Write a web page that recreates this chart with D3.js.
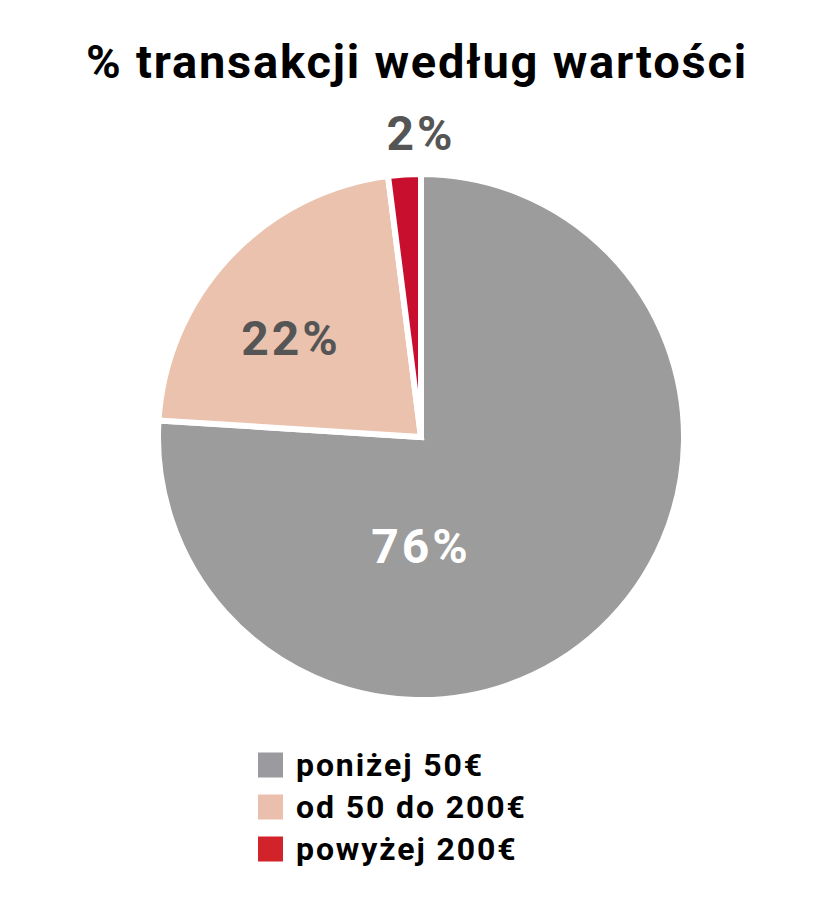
<!DOCTYPE html>
<html>
<head>
  <meta charset="utf-8">
  <title>% transakcji według wartości</title>
  <style>
    html, body { margin: 0; padding: 0; background: #fff; }
    svg text { font-family: Roboto, "Open Sans", "DejaVu Sans", sans-serif; font-weight: 700; }
  </style>
</head>
<body>
<div id="chart"></div>
<script src="https://cdn.jsdelivr.net/npm/d3@7"></script>
<script>
// data
var categories = ['poniżej 50€', 'od 50 do 200€', 'powyżej 200€'];
var shares = [76, 22, 2];
var labels = ['76%', '22%', '2%'];
var colors = ['#9c9c9c', '#ebc2ad', '#c8102e'];
var legendColors = ['#9b9b9f', '#ebbfad', '#d2232a'];

var width = 829, height = 913,
    cx = 421, cy = 437, radius = 263;

// label placement relative to pie centre (the source puts them by hand)
var labelOffset = [[0, 126], [-130, -82], [0, -287]],
    labelFill = ['#ffffff', '#555555', '#555555'];

var svg = d3.select('#chart').append('svg')
    .attr('width', width)
    .attr('height', height);

svg.append('text')
    .attr('x', 417)
    .attr('y', 78)
    .attr('text-anchor', 'middle')
    .style('font-size', '47px')
    .style('letter-spacing', '1.8px')
    .attr('fill', '#000')
    .text('% transakcji według wartości');

var pie = d3.pie().sort(null).value(function(d) { return d; });
var arc = d3.arc().innerRadius(0).outerRadius(radius);

var g = svg.append('g').attr('transform', 'translate(' + cx + ',' + cy + ')');

g.selectAll('path.slice')
    .data(pie(shares))
  .enter().append('path')
    .attr('class', 'slice')
    .attr('d', arc)
    .attr('fill', function(d, i) { return colors[i]; })
    .attr('stroke', '#fff')
    .attr('stroke-width', 6)
    .attr('stroke-linejoin', 'miter');

g.selectAll('text.lbl')
    .data(labels)
  .enter().append('text')
    .attr('class', 'lbl')
    .attr('x', function(d, i) { return labelOffset[i][0]; })
    .attr('y', function(d, i) { return labelOffset[i][1]; })
    .attr('text-anchor', 'middle')
    .style('font-size', '48px')
    .style('letter-spacing', '3px')
    .attr('fill', function(d, i) { return labelFill[i]; })
    .text(function(d) { return d; });

// legend
var y = d3.scaleBand().domain(categories).range([744, 870]);

var leg = svg.selectAll('g.legend')
    .data(categories)
  .enter().append('g')
    .attr('class', 'legend')
    .attr('transform', function(d) { return 'translate(258,' + y(d) + ')'; });

leg.append('rect')
    .attr('width', 25)
    .attr('height', 25)
    .attr('y', (y.bandwidth() - 25) / 2)
    .attr('fill', function(d, i) { return legendColors[i]; });

leg.append('text')
    .attr('x', 38)
    .attr('y', y.bandwidth() / 2 + 11)
    .style('font-size', '32px')
    .style('letter-spacing', '1.9px')
    .attr('fill', '#000')
    .text(function(d) { return d; });
</script>
</body>
</html>
